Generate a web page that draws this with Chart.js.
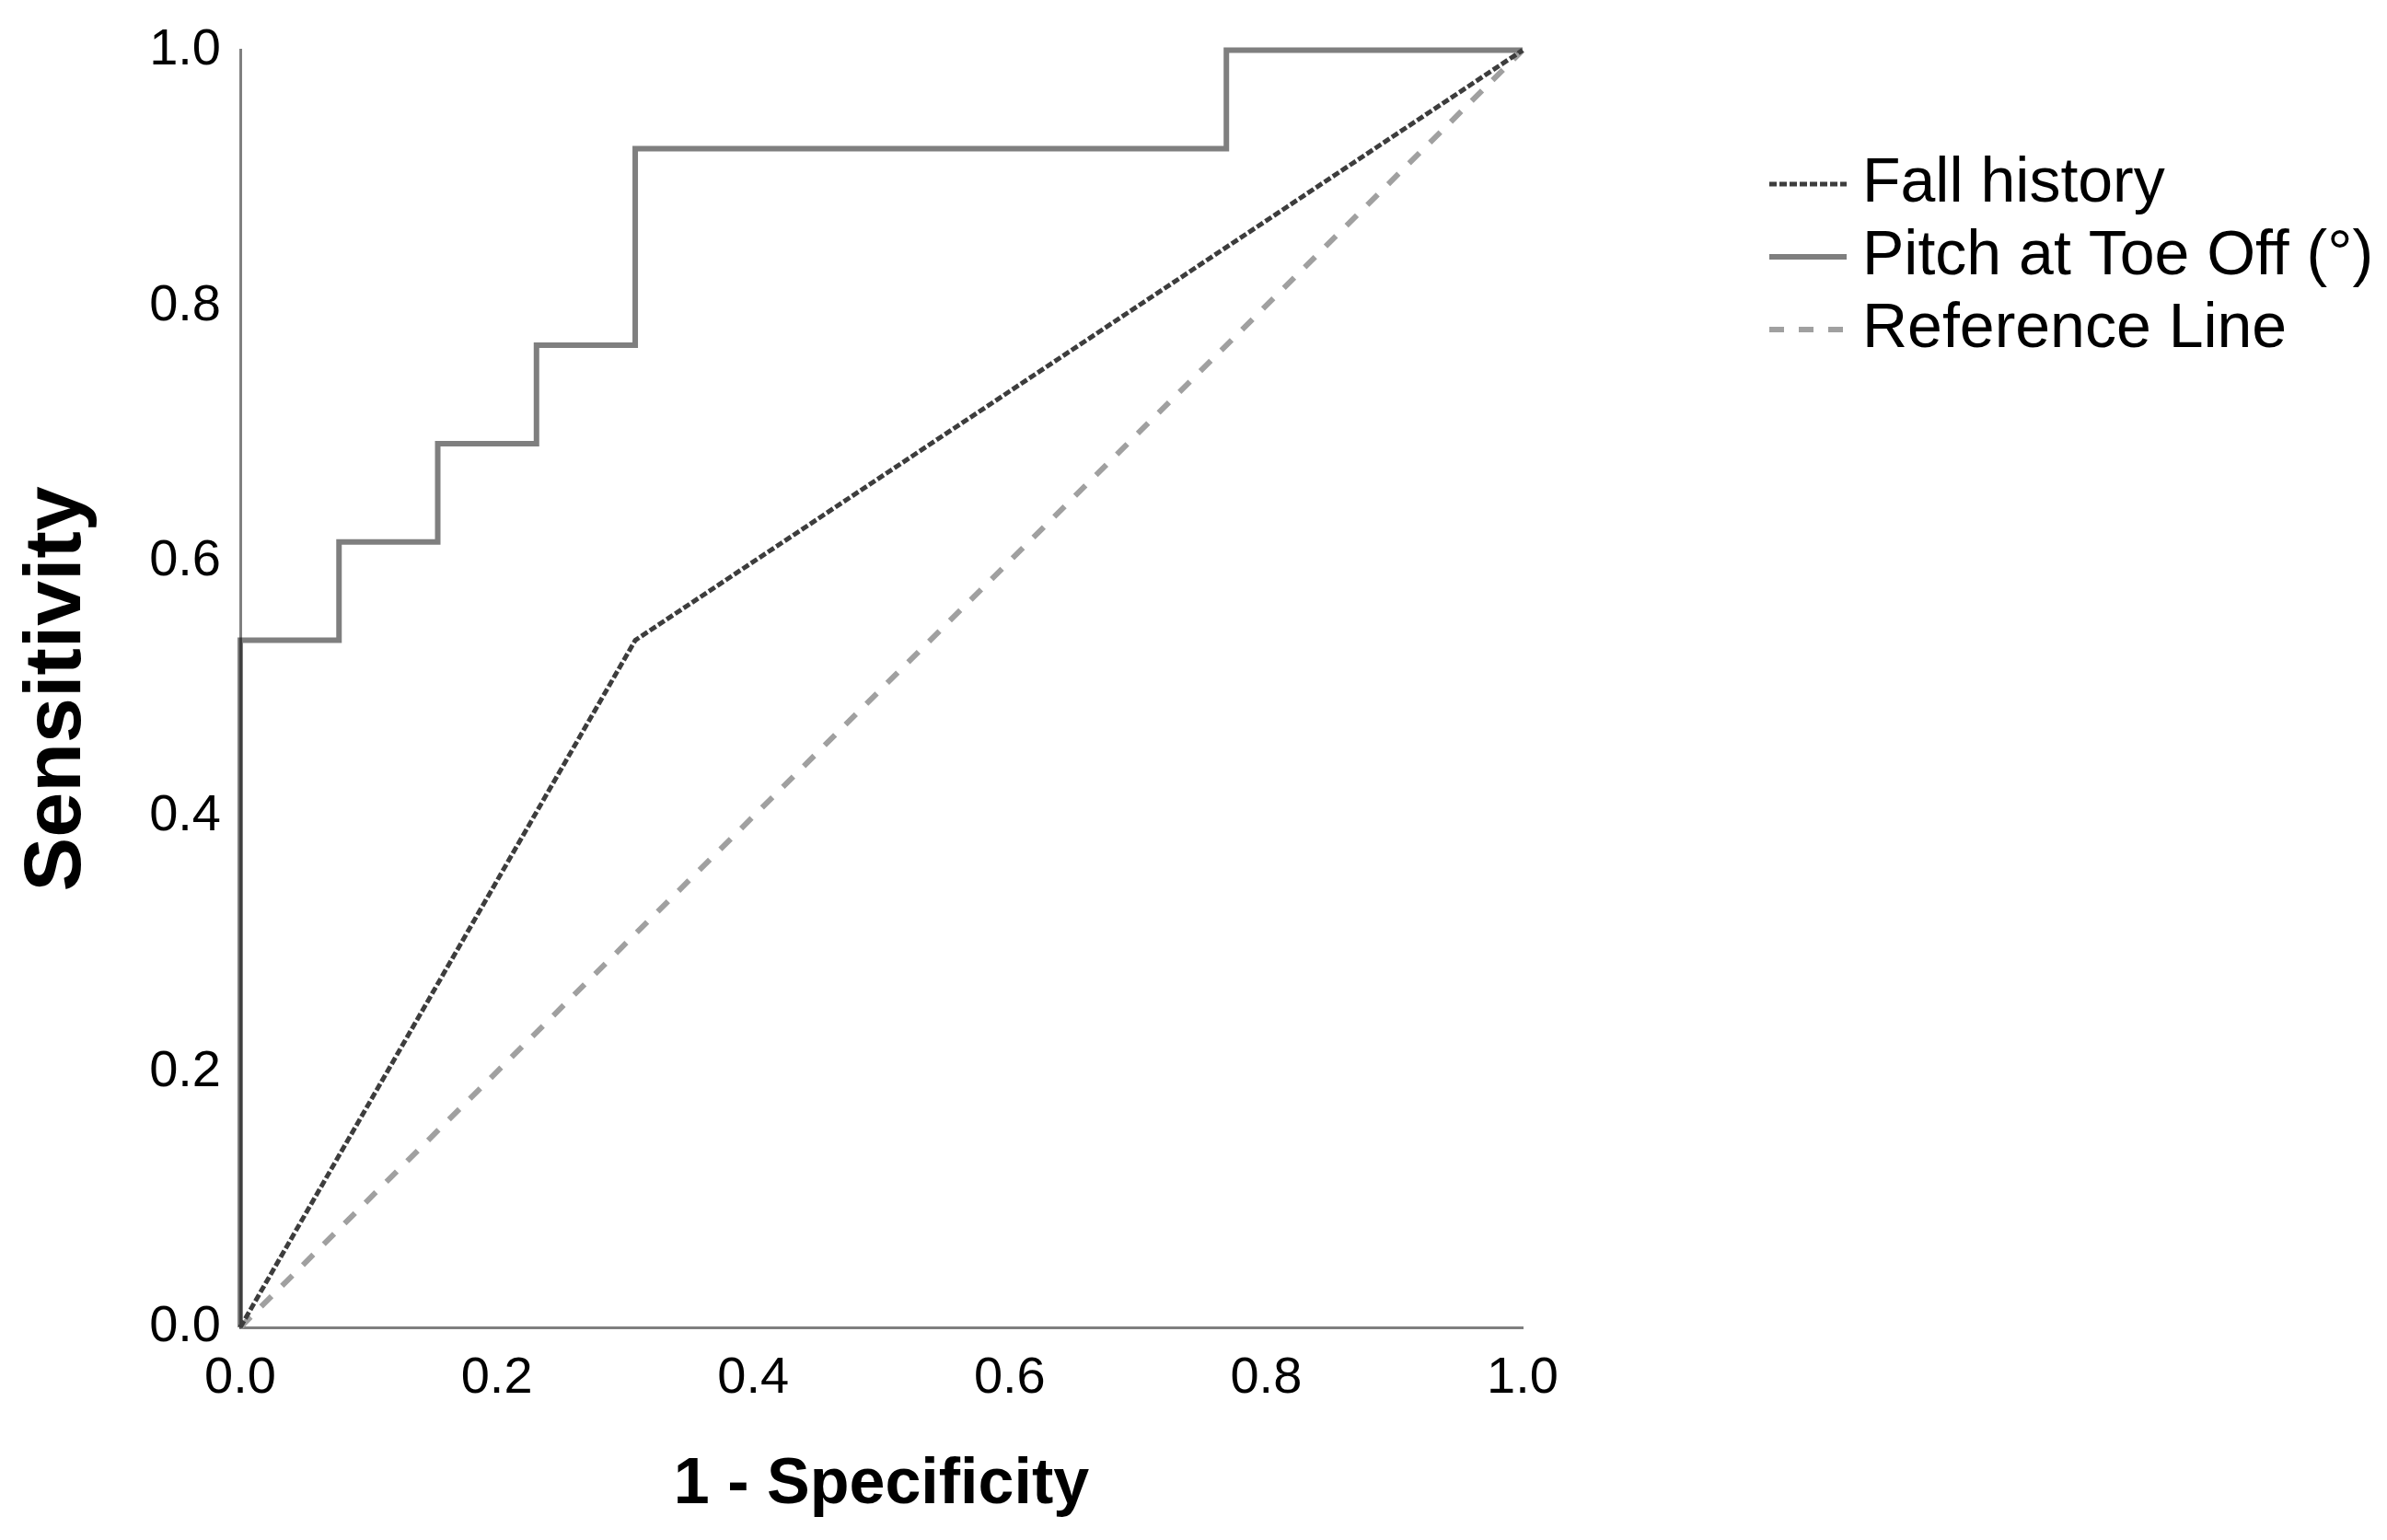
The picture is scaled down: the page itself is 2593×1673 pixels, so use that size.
<!DOCTYPE html>
<html>
<head>
<meta charset="utf-8">
<script src="https://cdn.jsdelivr.net/npm/chart.js@4.4.1/dist/chart.umd.min.js"></script>
<style>
  html, body { margin: 0; padding: 0; background: #fff; }
  #wrap { width: 2593px; height: 1673px; }
</style>
</head>
<body>
<div id="wrap"><canvas id="roc" width="2593" height="1673"></canvas></div>
<script>
// ROC curve data (1 - specificity, sensitivity)
const seriesNames = ['Fall history', 'Pitch at Toe Off (°)', 'Reference Line'];

const fallFpr = [0, 0.308, 1];
const fallTpr = [0, 0.538, 1];

const pitchFpr = [0, 0, 0.077, 0.077, 0.154, 0.154, 0.231, 0.231, 0.308, 0.308, 0.769, 0.769, 1];
const pitchTpr = [0, 0.538, 0.538, 0.615, 0.615, 0.692, 0.692, 0.769, 0.769, 0.923, 0.923, 1, 1];

const refFpr = [0, 1];
const refTpr = [0, 1];

const axisMin = 0;
const axisMax = 1;
const tickStep = 0.2;

const FONT = "'Liberation Sans', Arial, sans-serif";

const toPoints = (xs, ys) => xs.map((x, i) => ({ x, y: ys[i] }));

// legend drawn by hand so it can sit top-right like the original
const rocLegend = {
  id: 'rocLegend',
  afterDraw(chart, args, opts) {
    const ctx = chart.ctx;
    ctx.save();
    chart.data.datasets.forEach((ds, i) => {
      const y = opts.top + i * opts.rowGap;
      ctx.beginPath();
      ctx.setLineDash(ds.borderDash || []);
      ctx.strokeStyle = ds.borderColor;
      ctx.lineWidth = ds.borderWidth;
      ctx.moveTo(opts.left, y);
      ctx.lineTo(opts.left + opts.lineLen, y);
      ctx.stroke();
      ctx.setLineDash([]);
      ctx.fillStyle = '#000';
      ctx.font = opts.fontSize + 'px ' + FONT;
      ctx.textAlign = 'left';
      ctx.textBaseline = 'middle';
      ctx.fillText(ds.label, opts.left + opts.lineLen + opts.gap, y);
    });
    ctx.restore();
  }
};

new Chart(document.getElementById('roc'), {
  type: 'scatter',
  data: {
    datasets: [
      {
        label: seriesNames[0],
        data: toPoints(fallFpr, fallTpr),
        borderColor: '#3d3d3d',
        borderWidth: 5,
        borderDash: [8, 3]
      },
      {
        label: seriesNames[1],
        data: toPoints(pitchFpr, pitchTpr),
        borderColor: 'rgba(0,0,0,0.5)',
        borderWidth: 6
      },
      {
        label: seriesNames[2],
        data: toPoints(refFpr, refTpr),
        borderColor: '#a0a0a0',
        borderWidth: 6,
        borderDash: [16, 16]
      }
    ]
  },
  options: {
    responsive: false,
    animation: false,
    devicePixelRatio: 1,
    showLine: true,
    clip: 8,
    elements: {
      point: { radius: 0, hoverRadius: 0 },
      line: { tension: 0, fill: false, borderCapStyle: 'butt' }
    },
    layout: { padding: { left: 0, top: 50, right: 939, bottom: 0 } },
    plugins: {
      legend: { display: false },
      tooltip: { enabled: false },
      rocLegend: { left: 1922, top: 200, rowGap: 79, lineLen: 84, gap: 17, fontSize: 68 }
    },
    scales: {
      x: {
        type: 'linear',
        min: axisMin,
        max: axisMax,
        grid: { display: false, drawTicks: false },
        border: { display: true, color: 'rgba(0,0,0,0.5)', width: 3 },
        ticks: {
          stepSize: tickStep,
          padding: 22,
          color: '#000',
          font: { family: FONT, size: 56 },
          maxRotation: 0,
          callback: v => v.toFixed(1)
        },
        title: {
          display: true,
          text: '1 - Specificity',
          color: '#000',
          font: { family: FONT, size: 70, weight: 'bold', lineHeight: 1 },
          padding: { bottom: 24 }
        },
        afterFit: s => { s.height = 231; }
      },
      y: {
        type: 'linear',
        min: axisMin,
        max: axisMax,
        grid: { display: false, drawTicks: false },
        border: { display: true, color: 'rgba(0,0,0,0.5)', width: 3 },
        ticks: {
          stepSize: tickStep,
          padding: 21,
          color: '#000',
          font: { family: FONT, size: 56 },
          callback: v => v.toFixed(1)
        },
        title: {
          display: true,
          text: 'Sensitivity',
          color: '#000',
          font: { family: FONT, size: 88, weight: 'bold', lineHeight: 1 },
          padding: { top: 19 }
        },
        afterFit: s => { s.width = 261; }
      }
    }
  },
  plugins: [rocLegend]
});
</script>
</body>
</html>
